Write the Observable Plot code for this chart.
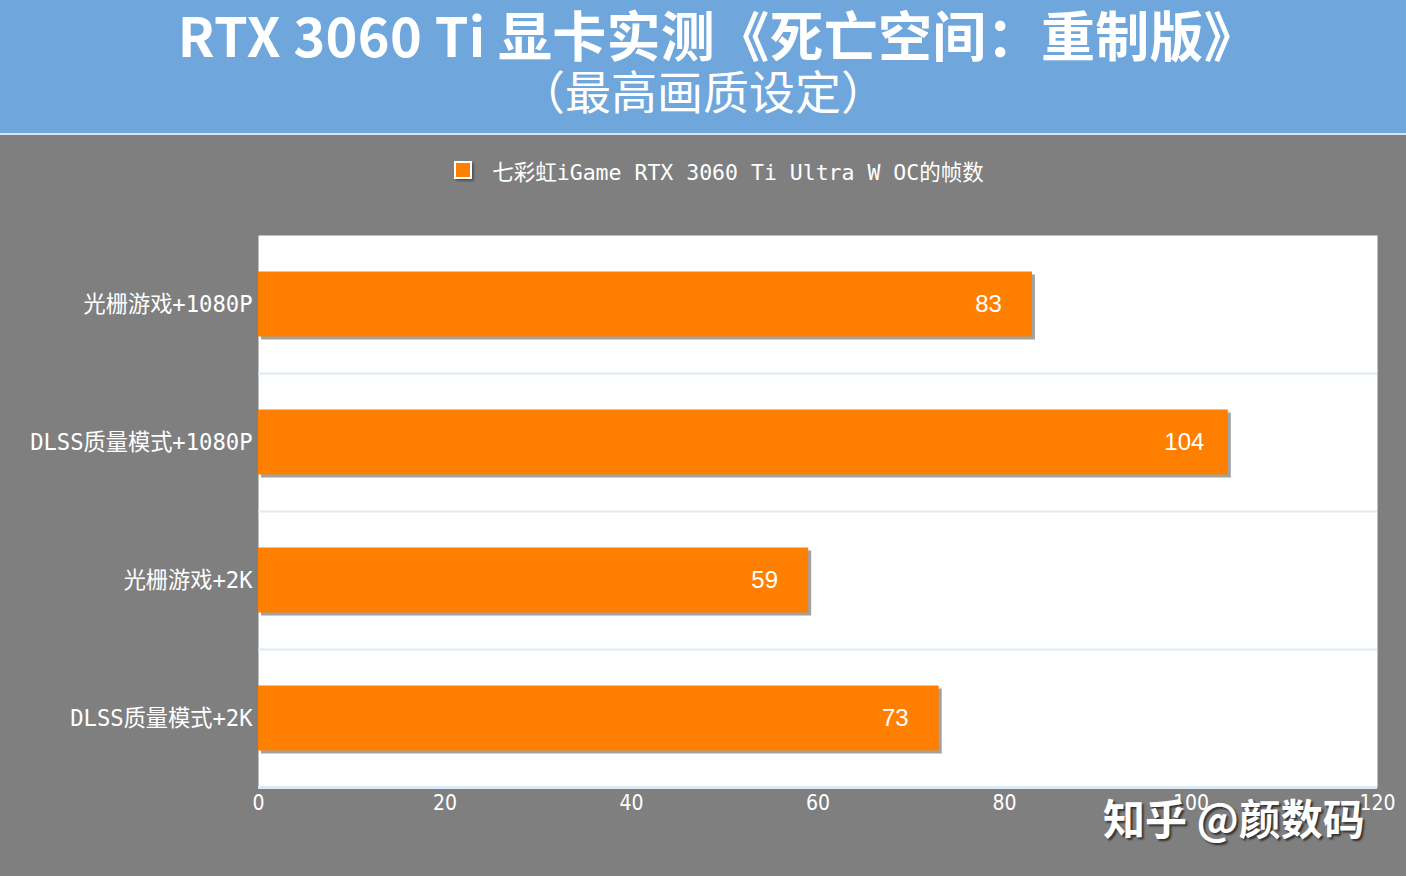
<!DOCTYPE html>
<html>
<head>
<meta charset="utf-8">
<script src="https://cdn.jsdelivr.net/npm/d3@7"></script>
<script src="https://cdn.jsdelivr.net/npm/@observablehq/plot@0.6"></script>
<style>
  html, body { margin: 0; padding: 0; background: #7f7f7f; }
  #wrap { position: relative; width: 1406px; height: 876px; overflow: hidden; background: #7f7f7f; }
  #header { position: relative; height: 133px; background: #6fa6dc; border-bottom: 2px solid #d6e6f5; color: #fff; text-align: center; font-family: "Noto Sans CJK SC", sans-serif; }
  #title { position: absolute; left: 0; right: 0; top: 0; font-size: 54px; font-weight: 700; line-height: 68px; letter-spacing: 0.3px; padding-left: 30px; white-space: nowrap; }
  #subtitle { position: absolute; left: 0; right: 0; top: 68px; font-size: 46px; font-weight: 400; line-height: 42px; white-space: nowrap; }
  #legend { height: 70px; display: flex; align-items: center; justify-content: center; color: #fff; font-family: "DejaVu Sans Mono", "Noto Sans CJK SC", monospace; font-size: 21.5px; padding-left: 32px; }
  #legend .sw { width: 14px; height: 14px; background: #ff8000; border: 2px solid #fff; box-shadow: 2px 2px 2px rgba(0,0,0,0.35); margin-right: 20px; }
  #watermark { position: absolute; left: 1103px; top: 786px; color: #fff; font-family: "Noto Sans CJK SC", sans-serif; font-weight: 700; font-size: 42px; text-shadow: 2px 2px 2px #333; letter-spacing: 0px; white-space: nowrap; }
</style>
</head>
<body>
<div id="wrap">
  <div id="header">
    <div id="title"></div>
    <div id="subtitle"></div>
  </div>
  <div id="legend"><div class="sw"></div><span id="legendText"></span></div>
  <div id="chart"></div>
  <div id="watermark"></div>
</div>
<script>
const titleText = "RTX 3060 Ti 显卡实测《死亡空间：重制版》";
const subtitleText = "（最高画质设定）";
const seriesName = "七彩虹iGame RTX 3060 Ti Ultra W OC的帧数";
const watermarkText = "知乎 @颜数码";
const categories = ["光栅游戏+1080P", "DLSS质量模式+1080P", "光栅游戏+2K", "DLSS质量模式+2K"];
const values = [83, 104, 59, 73];
const xTicks = [0, 20, 40, 60, 80, 100, 120];

document.getElementById("title").textContent = titleText;
document.getElementById("subtitle").textContent = subtitleText;
document.getElementById("legendText").textContent = seriesName;
document.getElementById("watermark").textContent = watermarkText;

const data = categories.map((c, i) => ({category: c, value: values[i]}));
const inset = 36.5;

const chart = Plot.plot({
  width: 1406,
  height: 671,
  marginTop: 30,
  marginBottom: 89,
  marginLeft: 258,
  marginRight: 29,
  style: {background: "transparent", color: "#fff", fontSize: "20px"},
  x: {domain: [0, 120], ticks: xTicks, tickSize: 0, tickPadding: 8, label: null},
  y: {domain: categories, padding: 0, tickSize: 0, tickPadding: 6, label: null},
  marks: [
    Plot.frame({fill: "#ffffff", stroke: null}),
    Plot.ruleY(categories.slice(1), {stroke: "#dce9f6", strokeWidth: 2, dy: -69}),
    Plot.ruleY(categories.slice(-1), {stroke: "#dce9f6", strokeWidth: 3, dy: 69}),
    Plot.barX(data, {x: "value", y: "category", fill: "#555", fillOpacity: 0.55, dx: 3, dy: 3, insetTop: inset, insetBottom: inset}),
    Plot.barX(data, {x: "value", y: "category", fill: "#ff8000", insetTop: inset, insetBottom: inset}),
    Plot.text(data, {x: "value", y: "category", text: d => String(d.value), fill: "#fff", fontSize: 24, fontFamily: "Liberation Sans, Arial, sans-serif", dx: -44, textAnchor: "middle"})
  ]
});

chart.querySelectorAll("[aria-label='y-axis tick label']").forEach(el => {
  el.setAttribute("font-family", "DejaVu Sans Mono, Noto Sans CJK SC, monospace");
  el.setAttribute("font-size", "22.2");
});
chart.querySelectorAll("[aria-label='x-axis tick label']").forEach(el => {
  el.setAttribute("font-family", "DejaVu Sans Condensed, Noto Sans, sans-serif");
  el.setAttribute("font-size", "21");
});
document.getElementById("chart").appendChild(chart);
</script>
</body>
</html>
